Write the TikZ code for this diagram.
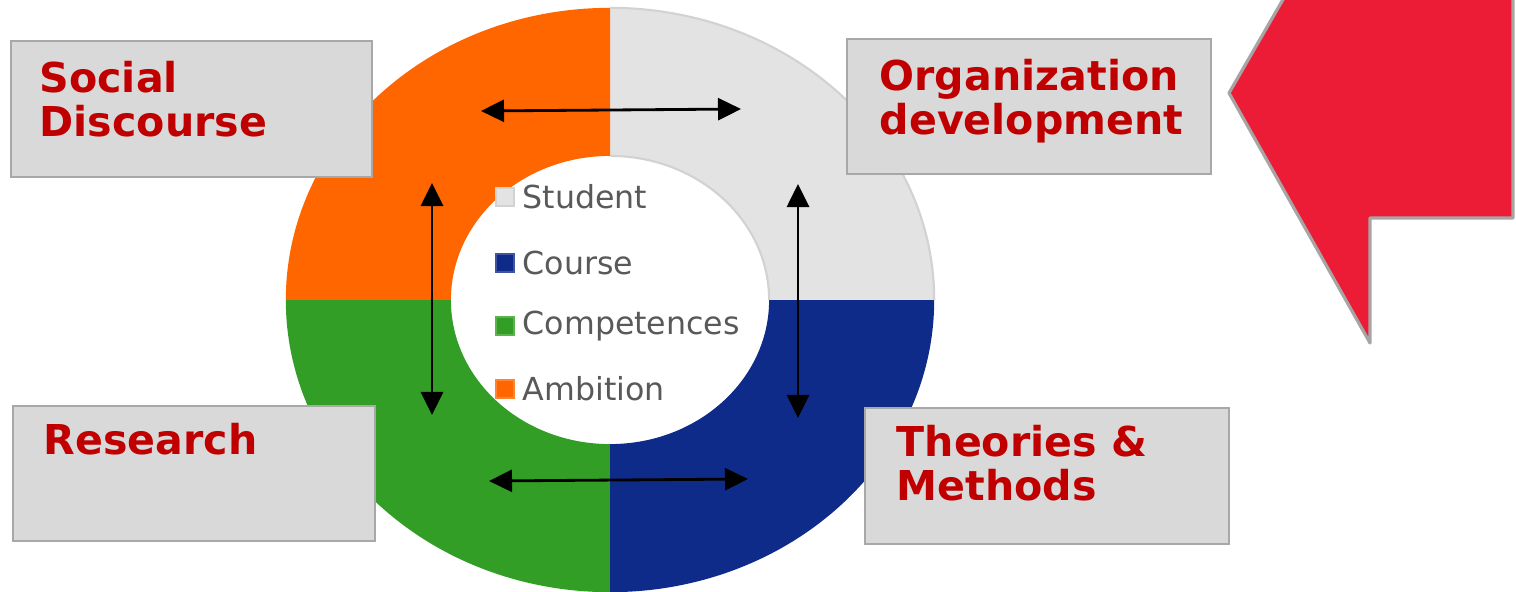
\documentclass[tikz,border=0pt]{standalone}
\usepackage{fontspec}
\setmainfont{DejaVu Sans}
\usetikzlibrary{arrows.meta,calc}

\definecolor{segStudent}{HTML}{E3E3E3}
\definecolor{segStudentEdge}{HTML}{D2D2D2}
\definecolor{segCourse}{HTML}{0F2B8A}
\definecolor{segComp}{HTML}{339E26}
\definecolor{segAmbition}{HTML}{FF6600}
\definecolor{boxFill}{HTML}{D9D9D9}
\definecolor{boxEdge}{HTML}{A8A8A8}
\definecolor{titleRed}{HTML}{C00000}
\definecolor{legendText}{HTML}{595959}
\definecolor{flagRed}{HTML}{ED1C36}
\definecolor{flagEdge}{HTML}{A8A4A4}

\begin{document}
\begin{tikzpicture}[x=0.01cm,y=0.01cm,
  topicbox/.style={draw=boxEdge,fill=boxFill,line width=0.6pt,inner sep=0pt},
  topictext/.style={anchor=north west,inner sep=0pt,align=left,text=titleRed,
    font=\fontsize{11.7pt}{12.5pt}\selectfont\bfseries},
  legendkey/.style={minimum size=0.18cm,inner sep=0pt,line width=0.4pt},
  legendlabel/.style={anchor=west,inner sep=0pt,text=legendText,
    font=\fontsize{9pt}{11pt}\selectfont},
  twoway/.style={line width=0.8pt,{Triangle[length=2.3mm,width=2.2mm]}-{Triangle[length=2.3mm,width=2.2mm]}}
]
\useasboundingbox (0,0) rectangle (1516,-591);
\clip (0,0) rectangle (1516,-591);

% ring of four quarter segments
\coordinate (c) at (610,-300);
\foreach \a/\b/\col in {0/90/segStudent,90/180/segAmbition,180/270/segComp,270/360/segCourse}
  \fill[\col] ($(c)+(\a:3.24cm and 2.92cm)$)
     arc[start angle=\a,end angle=\b,x radius=3.24cm,y radius=2.92cm]
     -- ($(c)+(\b:1.59cm and 1.44cm)$)
     arc[start angle=\b,end angle=\a,x radius=1.59cm,y radius=1.44cm] -- cycle;
\draw[segStudentEdge,line width=0.6pt] ($(c)+(0:3.24cm and 2.92cm)$)
     arc[start angle=0,end angle=90,x radius=3.24cm,y radius=2.92cm]
     ($(c)+(90:1.59cm and 1.44cm)$)
     arc[start angle=90,end angle=0,x radius=1.59cm,y radius=1.44cm];

% legend inside the ring
\node[legendkey,fill=segStudent,draw=segStudentEdge] (kS) at (505,-197) {};
\node[legendlabel] (lS) at (522,-197) {Student};
\node[legendkey,fill=segCourse,draw=segCourse!80!white] (kC) at (505,-263) {};
\node[legendlabel] (lC) at (522,-263) {Course};
\node[legendkey,fill=segComp,draw=segComp!80!white] (kP) at (505,-326) {};
\node[legendlabel] (lP) at (522,-326) {Competences};
\node[legendkey,fill=segAmbition,draw=segAmbition!80!white] (kA) at (505,-389) {};
\node[legendlabel] (lA) at (522,-389) {Ambition};

% topic boxes
\node[topicbox,minimum width=3.61cm,minimum height=1.36cm] (social) at (191.5,-109) {};
\node[topictext] (socialT) at (39,-61) {Social\\Discourse};
\node[topicbox,minimum width=3.64cm,minimum height=1.35cm] (org) at (1029,-106.5) {};
\node[topictext] (orgT) at (879,-59) {Organization\\development};
\node[topicbox,minimum width=3.62cm,minimum height=1.35cm] (research) at (194,-473.5) {};
\node[topictext] (researchT) at (43,-423) {Research};
\node[topicbox,minimum width=3.64cm,minimum height=1.36cm] (theories) at (1047,-476) {};
\node[topictext] (theoriesT) at (896,-425) {Theories \&\\Methods};

% double-headed arrows around the ring
\coordinate (tl) at (481,-111);
\coordinate (tr) at (741,-109);
\coordinate (bl) at (489,-481);
\coordinate (br) at (748,-479);
\coordinate (lt) at (432,-183);
\coordinate (lb) at (432,-415);
\coordinate (rt) at (798,-184);
\coordinate (rb) at (798,-418);
\draw[twoway] (tl) -- (tr);
\draw[twoway] (bl) -- (br);
\draw[twoway] (lt) -- (lb);
\draw[twoway] (rt) -- (rb);

% red pointer shape at the right
\draw[fill=flagRed,draw=flagEdge,line width=0.9pt,line join=round]
  (1300,30) -- (1229,-93) -- (1370,-343) -- (1370,-218) -- (1513,-218) -- (1513,30) -- cycle;
\end{tikzpicture}
\end{document}
